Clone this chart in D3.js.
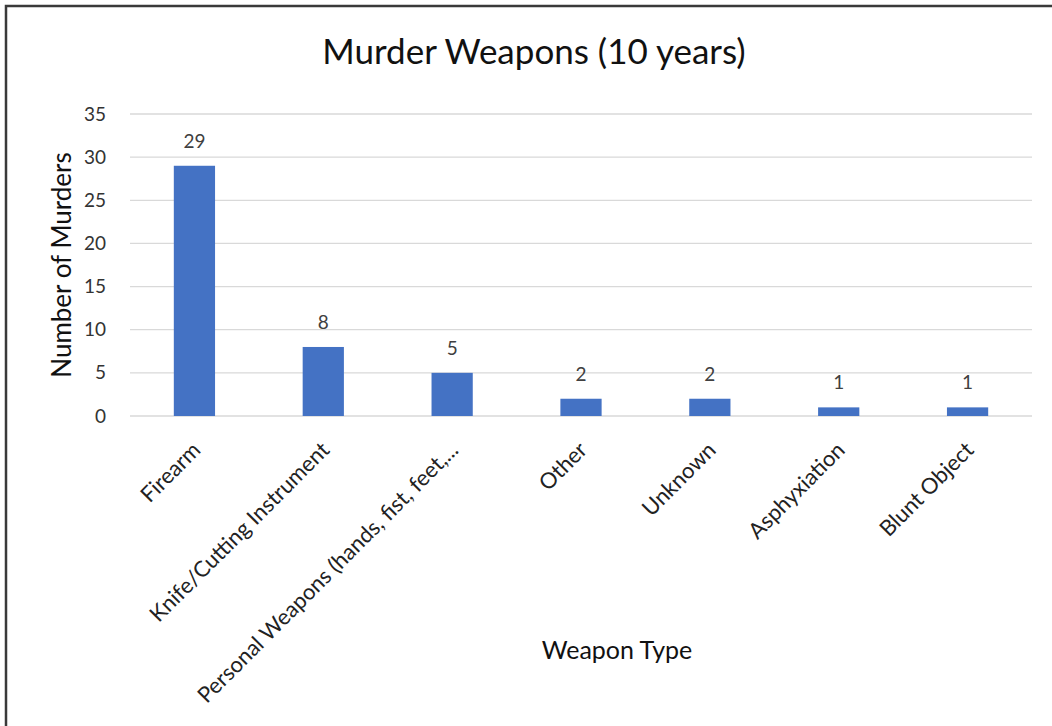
<!DOCTYPE html>
<html>
<head>
<meta charset="utf-8">
<script src="https://cdn.jsdelivr.net/npm/d3@7"></script>
<style>
  html, body { margin: 0; padding: 0; background: #fff; }
  svg { display: block; }
  text { font-family: Lato, "Open Sans", sans-serif; }
</style>
</head>
<body>
<svg id="chart" width="1052" height="726"></svg>
<script>
// Murder counts by weapon type over ten years
const categories = [
  "Firearm",
  "Knife/Cutting Instrument",
  "Personal Weapons (hands, fist, feet,...",
  "Other",
  "Unknown",
  "Asphyxiation",
  "Blunt Object"
];
const murders = [29, 8, 5, 2, 2, 1, 1];
const yTicks = [0, 5, 10, 15, 20, 25, 30, 35];

const chartTitle = "Murder Weapons (10 years)";
const xTitle = "Weapon Type";
const yTitle = "Number of Murders";

const svg = d3.select("#chart");
const W = 1052, H = 726;
const plot = { left: 130, right: 1032, top: 114, bottom: 416 };

// frame around the chart area
svg.append("path")
  .attr("d", `M6,${H} L6,6 L${W},6`)
  .attr("fill", "none")
  .attr("stroke", "#3a3a3a")
  .attr("stroke-width", 2.5);

const x = d3.scaleBand()
  .domain(categories)
  .range([plot.left, plot.right])
  .paddingInner(0.68)
  .paddingOuter(0.34);

const y = d3.scaleLinear()
  .domain([0, 35])
  .range([plot.bottom, plot.top]);

// horizontal gridlines
svg.append("g")
  .selectAll("line")
  .data(yTicks)
  .join("line")
  .attr("x1", plot.left)
  .attr("x2", plot.right)
  .attr("y1", d => y(d))
  .attr("y2", d => y(d))
  .attr("stroke", "#d9d9d9")
  .attr("stroke-width", 1.3);

// y axis tick labels
const yAxis = d3.axisLeft(y).tickValues(yTicks).tickSize(0).tickPadding(0);
const gy = svg.append("g")
  .attr("transform", `translate(${plot.left - 24},0)`)
  .call(yAxis);
gy.select(".domain").remove();
gy.selectAll("text")
  .attr("font-size", 19)
  .attr("font-family", "Lato, 'Open Sans', sans-serif")
  .attr("fill", "#333");

// bars
svg.append("g")
  .selectAll("rect")
  .data(categories)
  .join("rect")
  .attr("x", d => x(d))
  .attr("width", x.bandwidth())
  .attr("y", (d, i) => y(murders[i]))
  .attr("height", (d, i) => y(0) - y(murders[i]))
  .attr("fill", "#4472c4");

// value labels above bars
svg.append("g")
  .selectAll("text")
  .data(categories)
  .join("text")
  .attr("x", d => x(d) + x.bandwidth() / 2)
  .attr("y", (d, i) => y(murders[i]) - 18)
  .attr("text-anchor", "middle")
  .attr("font-size", 19)
  .attr("fill", "#404040")
  .text((d, i) => murders[i]);

// category labels, rotated
const xAxis = d3.axisBottom(x).tickSize(0).tickPadding(0);
const gx = svg.append("g")
  .attr("transform", `translate(0,${plot.bottom})`)
  .call(xAxis);
gx.select(".domain").remove();
gx.selectAll("text")
  .attr("font-size", 22)
  .attr("font-family", "Lato, 'Open Sans', sans-serif")
  .attr("fill", "#222")
  .attr("text-anchor", "end")
  .attr("dy", "0.35em")
  .attr("transform", "translate(2,30) rotate(-45)");

// titles
svg.append("text")
  .attr("x", 534)
  .attr("y", 64)
  .attr("text-anchor", "middle")
  .attr("font-size", 35)
  .attr("fill", "#111")
  .text(chartTitle);

svg.append("text")
  .attr("x", 617)
  .attr("y", 659)
  .attr("text-anchor", "middle")
  .attr("font-size", 25)
  .attr("fill", "#111")
  .text(xTitle);

svg.append("text")
  .attr("transform", `translate(71,${(plot.top + plot.bottom) / 2}) rotate(-90)`)
  .attr("text-anchor", "middle")
  .attr("font-size", 26)
  .attr("fill", "#111")
  .text(yTitle);
</script>
</body>
</html>
